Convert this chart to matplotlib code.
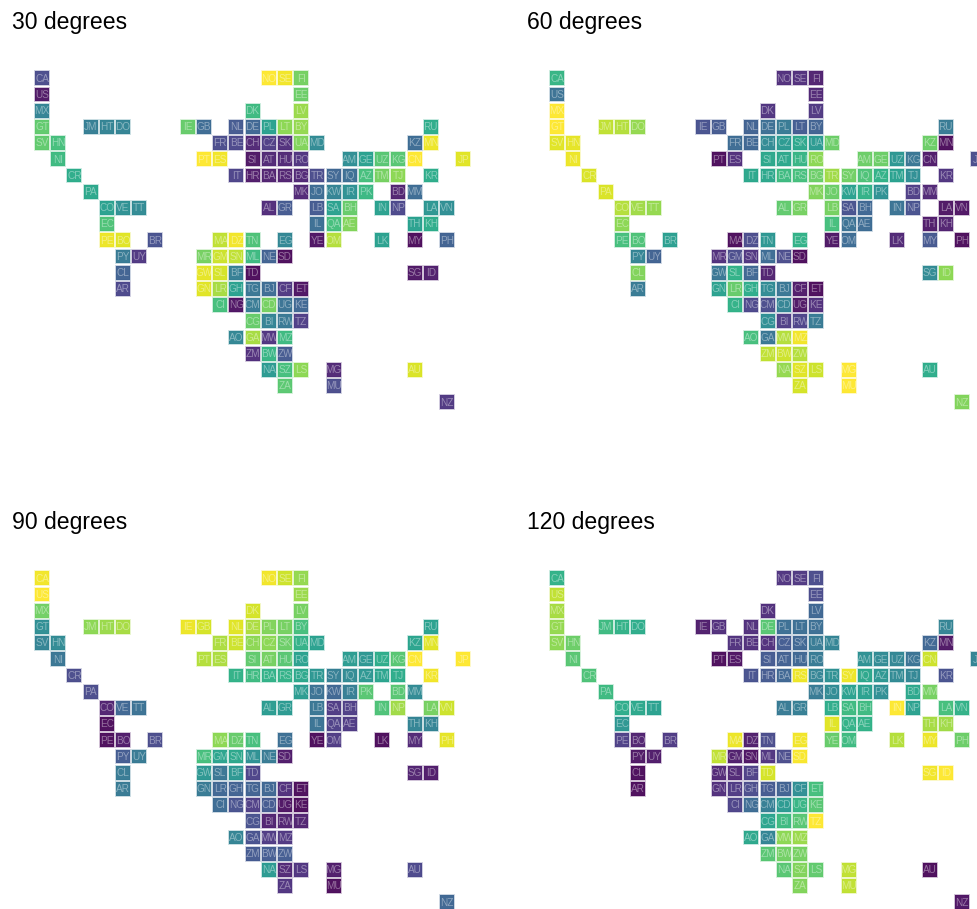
import matplotlib
matplotlib.use('Agg')
import matplotlib.pyplot as plt
from matplotlib.patches import Rectangle

plt.rcParams['font.family'] = ['Liberation Sans', 'DejaVu Sans']

# grid map: country code, column, row
codes = ['CA',
         'NO','SE','FI','US',
         'EE','MX','DK','LV',
         'GT','JM','HT','DO','IE','GB','NL','DE','PL','LT','BY','RU',
         'SV','HN','FR','BE','CH','CZ','SK','UA','MD','KZ','MN',
         'NI','PT','ES','SI','AT','HU','RO','AM','GE','UZ','KG','CN','JP',
         'CR','IT','HR','BA','RS','BG','TR','SY','IQ','AZ','TM','TJ','KR',
         'PA','MK','JO','KW','IR','PK','BD','MM',
         'CO','VE','TT','AL','GR','LB','SA','BH','IN','NP','LA','VN',
         'EC','IL','QA','AE','TH','KH',
         'PE','BO','BR','MA','DZ','TN','EG','YE','OM','LK','MY','PH',
         'PY','UY','MR','GM','SN','ML','NE','SD',
         'CL','GW','SL','BF','TD','SG','ID',
         'AR','GN','LR','GH','TG','BJ','CF','ET',
         'CI','NG','CM','CD','UG','KE',
         'CG','BI','RW','TZ',
         'AO','GA','MW','MZ',
         'ZM','BW','ZW',
         'NA','SZ','LS','MG','AU',
         'ZA','MU',
         'NZ']
cols = [0,
        14,15,16,0,
        16,0,13,16,
        0,3,4,5,9,10,12,13,14,15,16,24,
        0,1,11,12,13,14,15,16,17,23,24,
        1,10,11,13,14,15,16,19,20,21,22,23,26,
        2,12,13,14,15,16,17,18,19,20,21,22,24,
        3,16,17,18,19,20,22,23,
        4,5,6,14,15,17,18,19,21,22,24,25,
        4,17,18,19,23,24,
        4,5,7,11,12,13,15,17,18,21,23,25,
        5,6,10,11,12,13,14,15,
        5,10,11,12,13,23,24,
        5,10,11,12,13,14,15,16,
        11,12,13,14,15,16,
        13,14,15,16,
        12,13,14,15,
        13,14,15,
        14,15,16,18,23,
        15,18,
        25]
rows = [0,
        0,0,0,1,
        1,2,2,2,
        3,3,3,3,3,3,3,3,3,3,3,3,
        4,4,4,4,4,4,4,4,4,4,4,
        5,5,5,5,5,5,5,5,5,5,5,5,5,
        6,6,6,6,6,6,6,6,6,6,6,6,6,
        7,7,7,7,7,7,7,7,
        8,8,8,8,8,8,8,8,8,8,8,8,
        9,9,9,9,9,9,
        10,10,10,10,10,10,10,10,10,10,10,10,
        11,11,11,11,11,11,11,11,
        12,12,12,12,12,12,12,
        13,13,13,13,13,13,13,13,
        14,14,14,14,14,14,
        15,15,15,15,
        16,16,16,16,
        17,17,17,
        18,18,18,18,18,
        19,19,
        20]

# values, same order as codes
v30 = [.2,
       1.0,.98,.78,.03,
       .76,.42,.66,.84,
       .74,.4,.42,.42,.75,.32,.25,.3,.55,.82,.83,.6,
       .74,.68,.2,.18,.08,.15,.1,.8,.45,.32,.97,
       .66,1.0,.98,.03,.08,.08,.12,.47,.55,.72,.72,1.0,.95,
       .6,.17,.04,.06,.06,.08,.2,.3,.33,.68,.78,.82,.6,
       .58,.08,.32,.42,.48,.65,.06,.32,
       .55,.48,.45,.09,.25,.25,.55,.75,.55,.18,.5,.47,
       .7,.33,.68,.8,.55,.6,
       .97,.95,.22,.9,.98,.7,.43,.02,.88,.55,.0,.28,
       .38,.13,.78,.92,.9,.66,.28,.0,
       .28,.96,.93,.4,.0,.03,.05,
       .18,.95,.86,.55,.36,.32,.13,.02,
       .68,.02,.38,.78,.35,.3,
       .75,.42,.37,.15,
       .43,.86,.12,.66,
       .1,.64,.25,
       .52,.68,.82,.08,.94,
       .73,.2,
       .13]
v60 = [.64,
       .1,.1,.06,.34,
       .08,1.0,.12,.13,
       1.0,.9,.88,.83,.22,.25,.28,.33,.38,.26,.28,.38,
       .95,.96,.32,.3,.45,.52,.58,.52,.76,.76,.0,
       .97,.0,.1,.58,.58,.64,.82,.76,.76,.5,.36,.04,.2,
       .94,.58,.58,.66,.68,.76,.85,.77,.7,.62,.55,.47,.12,
       .94,.8,.76,.55,.62,.48,.15,.08,
       .88,.85,.83,.74,.78,.78,.22,.3,.35,.22,.03,.02,
       .82,.68,.34,.32,.04,.06,
       .68,.7,.54,.0,.2,.5,.62,.03,.32,.08,.24,.0,
       .42,.28,.1,.2,.12,.32,.2,.0,
       .8,.36,.62,.3,.06,.45,.82,
       .38,.55,.75,.6,.45,.36,.04,.0,
       .62,.18,.2,.42,.03,.1,
       .47,.15,.17,.38,
       .68,.36,.88,.98,
       .9,.92,.88,
       .83,.95,.92,1.0,.6,
       .93,1.0,
       .8]
v90 = [.98,
       .98,.92,.83,1.0,
       .84,.77,.93,.78,
       .47,.82,.84,.86,.97,.93,.95,.87,.8,.78,.68,.55,
       .42,.45,.87,.92,.82,.82,.76,.62,.55,.56,.95,
       .36,.88,.87,.74,.78,.72,.55,.53,.5,.6,.72,1.0,1.0,
       .2,.62,.66,.62,.62,.58,.5,.4,.45,.5,.56,.6,.98,
       .2,.53,.34,.3,.4,.72,.72,.45,
       .06,.3,.34,.53,.52,.36,.14,.15,.7,.85,.78,.92,
       .0,.35,.16,.14,.42,.42,
       .0,.04,.2,.82,.75,.68,.33,.0,.14,.0,.08,.96,
       .26,.38,.68,.56,.58,.48,.38,.04,
       .38,.5,.36,.5,.17,.06,.04,
       .38,.38,.3,.28,.28,.3,.1,.0,
       .32,.22,.15,.25,.02,.0,
       .22,.06,.06,.06,
       .42,.22,.14,.13,
       .25,.26,.26,
       .52,.08,.12,.04,.18,
       .12,.0,
       .3]
v120 = [.62,
        .12,.13,.2,.9,
        .2,.86,.1,.3,
        .83,.66,.62,.6,.05,.1,.1,.72,.33,.33,.33,.42,
        .82,.76,.11,.1,.1,.26,.3,.38,.42,.3,.03,
        .72,.0,.02,.25,.27,.3,.38,.48,.45,.43,.35,.92,.42,
        .7,.22,.25,.3,.97,.42,.48,.97,.58,.5,.45,.43,.22,
        .66,.38,.45,.55,.55,.47,.58,.78,
        .6,.58,.55,.38,.4,.6,.66,.66,1.0,.55,.68,.62,
        .5,.95,.62,.62,.86,.85,
        .16,.06,.14,.97,.05,.2,.98,.75,.66,.88,.97,.76,
        .03,.04,.9,.05,.02,.12,.2,.99,
        .0,.08,.08,.16,.93,.98,1.0,
        .0,.1,.14,.2,.25,.28,.47,.68,
        .17,.32,.4,.52,.64,.72,
        .56,.66,.72,1.0,
        .58,.42,.82,.84,
        .72,.77,.78,
        .72,.8,.74,.9,.0,
        .8,.9,
        .02]

panels = [('30 degrees', v30, 0, 0),
          ('60 degrees', v60, 515, 0),
          ('90 degrees', v90, 0, 500),
          ('120 degrees', v120, 515, 500)]

W, H = 977.0, 909.0
pitch = 16.2
fig = plt.figure(figsize=(9.77, 9.09), dpi=100)
cmap = plt.cm.viridis

for title, vals, dx, dy in panels:
    # axes box in pixels, grid cell (0,0) is centred on 42,78.3 in the first panel
    left = 42 + dx - 1.0 * pitch
    top = 78.3 + dy - 1.0 * pitch
    ax = fig.add_axes([left / W, 1 - (top + 22 * pitch) / H, 28 * pitch / W, 22 * pitch / H])
    ax.set_xlim(-1, 27)
    ax.set_ylim(21, -1)
    ax.axis('off')
    for code, c, r, v in zip(codes, cols, rows, vals):
        col = cmap(v)
        ax.add_patch(Rectangle((c - .43, r - .43), .86, .86, facecolor=col[:3] + (.93,), edgecolor=col[:3] + (.28,), lw=1.3))
        ax.text(c, r + .02, code, color='white', alpha=.4, fontsize=7.2, ha='center', va='center')
    fig.text((12 + dx) / W, 1 - (29 + dy) / H, title, fontsize=16.6, color='black', ha='left', va='baseline')

fig.savefig('out.png', dpi=100)
